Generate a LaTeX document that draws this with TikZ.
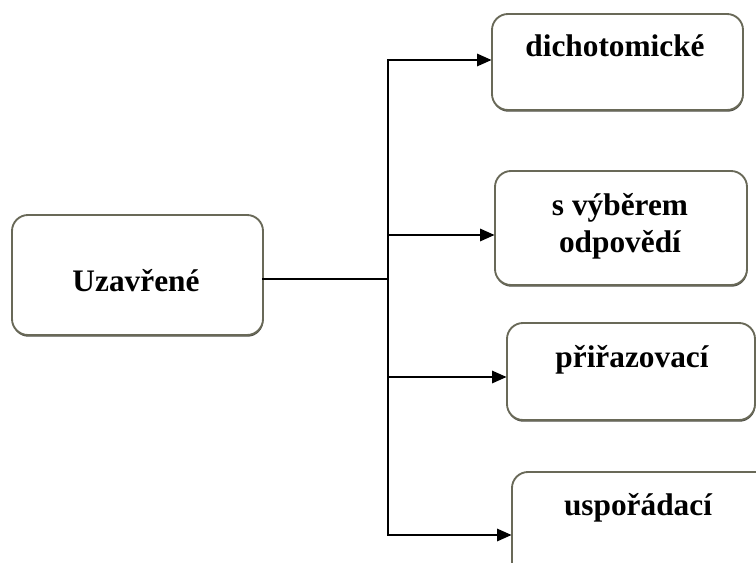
\documentclass[tikz,border=0pt]{standalone}
\usepackage{fontspec}
\setmainfont{Liberation Serif}
\usetikzlibrary{arrows.meta,shadows}
\definecolor{boxedge}{RGB}{105,105,88}
\definecolor{boxshade}{RGB}{60,60,50}
\tikzset{
  box/.style={draw=boxedge, line width=1.4pt, rounded corners=12pt, fill=white,
    inner sep=0pt,
    drop shadow={shadow xshift=0.3pt, shadow yshift=-1.3pt, fill=boxshade, opacity=0.9}},
  label/.style={font=\fontsize{23.5}{28}\selectfont\bfseries, align=center, inner sep=0pt},
  link/.style={line width=2.2pt, draw=black, line cap=rect},
  arrowlink/.style={link, -{Triangle[length=11pt,width=9pt]}, shorten >=-0.5pt}
}
\begin{document}
\begin{tikzpicture}[x=0.75pt,y=-0.75pt]
  \useasboundingbox (0,0) rectangle (756,563);
  \clip (0,0) rectangle (756,563);

  % boxes
  \node[box, minimum width=251*0.75pt, minimum height=120*0.75pt] (root) at (137.5,275) {};
  \node[box, minimum width=251*0.75pt, minimum height=96*0.75pt]  (dich) at (617.5,62) {};
  \node[box, minimum width=252*0.75pt, minimum height=114*0.75pt] (vyb)  at (621,228) {};
  \node[box, minimum width=248*0.75pt, minimum height=97*0.75pt]  (pri)  at (631,371.5) {};
  \node[box, minimum width=260*0.75pt, minimum height=125*0.75pt] (usp)  at (642,534.5) {};

  % texts
  \node[label, anchor=base] (troot) at (136,291) {Uzavřené};
  \node[label, anchor=base] (tdich) at (615,57) {dichotomické};
  \node[label, anchor=base] (tvyb1) at (620,215) {s výběrem};
  \node[label, anchor=base] (tvyb2) at (620,252) {odpovědí};
  \node[label, anchor=base] (tpri)  at (632,367) {přiřazovací};
  \node[label, anchor=base] (tusp)  at (638,515) {uspořádací};

  % spine of the tree
  \coordinate (top) at (388,60);
  \coordinate (jr)  at (388,279);
  \coordinate (j2)  at (388,235);
  \coordinate (j3)  at (388,377);
  \coordinate (bot) at (388,535);

  \draw[link] (root.east |- jr) -- (jr);
  \draw[link] (top) -- (bot);
  \draw[arrowlink] (top) -- (top -| dich.west);
  \draw[arrowlink] (j2)  -- (j2 -| vyb.west);
  \draw[arrowlink] (j3)  -- (j3 -| pri.west);
  \draw[arrowlink] (bot) -- (bot -| usp.west);
\end{tikzpicture}
\end{document}
